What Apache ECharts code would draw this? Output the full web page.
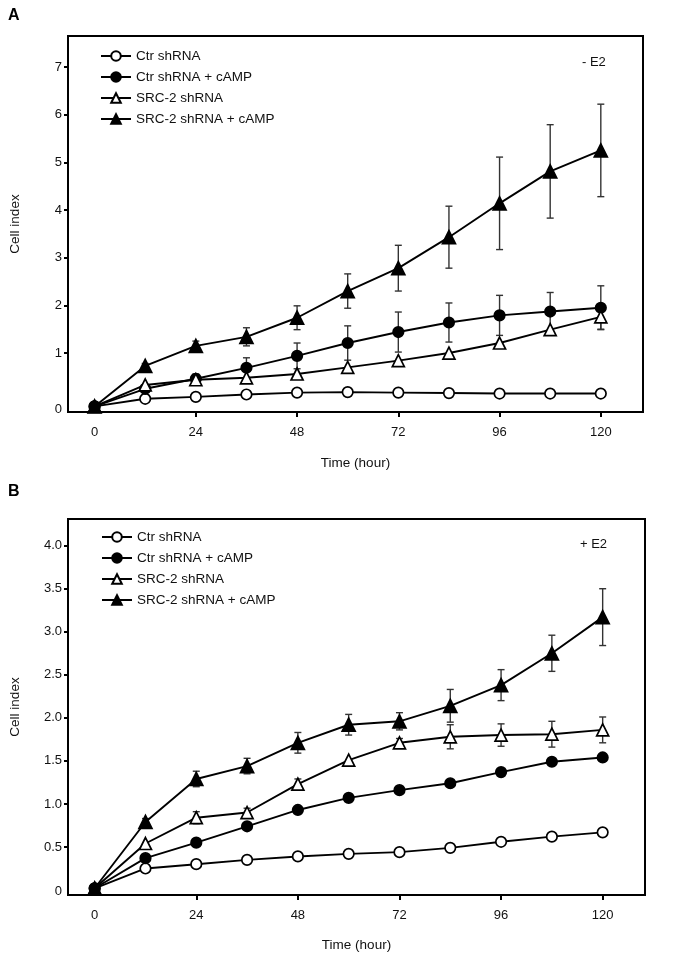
<!DOCTYPE html>
<html>
<head>
<meta charset="utf-8">
<script src="https://cdn.jsdelivr.net/npm/echarts@6/dist/echarts.min.js"></script>
<style>html,body{margin:0;padding:0;background:#fff}#c{width:673px;height:957px}</style>
</head>
<body>
<div id="c"></div>
<script>
// ---- data ----
const hours = [0, 12, 24, 36, 48, 60, 72, 84, 96, 108, 120];
const seriesNames = ['Ctr shRNA', 'Ctr shRNA + cAMP', 'SRC-2 shRNA', 'SRC-2 shRNA + cAMP'];
const xTicks = [0, 24, 48, 72, 96, 120];

// Panel A (- E2)
const ctrA       = [-0.12, 0.04, 0.08, 0.13, 0.17, 0.18, 0.17, 0.16, 0.15, 0.15, 0.15];
const ctrCampA   = [-0.12, 0.25, 0.46, 0.69, 0.94, 1.21, 1.44, 1.64, 1.79, 1.87, 1.95];
const srcA       = [-0.12, 0.33, 0.44, 0.48, 0.56, 0.70, 0.84, 1.00, 1.21, 1.49, 1.76];
const srcCampA   = [-0.12, 0.73, 1.15, 1.34, 1.74, 2.30, 2.78, 3.43, 4.14, 4.81, 5.25];
const ctrErrA     = [0, 0, 0, 0, 0, 0, 0, 0, 0, 0, 0];
const ctrCampErrA = [0, 0, 0.10, 0.21, 0.27, 0.36, 0.42, 0.41, 0.42, 0.40, 0.46];
const srcErrA     = [0, 0, 0.10, 0, 0, 0, 0, 0, 0, 0, 0.26];
const srcCampErrA = [0, 0.05, 0.10, 0.19, 0.25, 0.36, 0.48, 0.65, 0.97, 0.98, 0.97];
const yTicksA = [0, 1, 2, 3, 4, 5, 6, 7];

// Panel B (+ E2)
const ctrB       = [0.02, 0.25, 0.30, 0.35, 0.39, 0.42, 0.44, 0.49, 0.56, 0.62, 0.67];
const ctrCampB   = [0.02, 0.37, 0.55, 0.74, 0.93, 1.07, 1.16, 1.24, 1.37, 1.49, 1.54];
const srcB       = [0.02, 0.54, 0.84, 0.90, 1.23, 1.51, 1.71, 1.78, 1.80, 1.81, 1.86];
const srcCampB   = [0.02, 0.79, 1.29, 1.44, 1.71, 1.92, 1.96, 2.14, 2.38, 2.75, 3.17];
const ctrErrB     = [0, 0, 0, 0, 0, 0, 0, 0, 0, 0, 0];
const ctrCampErrB = [0, 0, 0, 0, 0, 0, 0, 0, 0, 0, 0];
const srcErrB     = [0, 0, 0.07, 0.05, 0.06, 0, 0.05, 0.14, 0.13, 0.15, 0.15];
const srcCampErrB = [0, 0.04, 0.09, 0.09, 0.12, 0.12, 0.10, 0.19, 0.18, 0.21, 0.33];
const yTicksB = [0, 0.5, 1.0, 1.5, 2.0, 2.5, 3.0, 3.5, 4.0];

// ---- build ----
const FONT = 'Liberation Sans, Arial, sans-serif';
const markers = [
  {symbol: 'circle', size: 10.5, fill: '#fff'},
  {symbol: 'circle', size: 10.5, fill: '#000'},
  {symbol: 'triangle', size: 12, fill: '#fff'},
  {symbol: 'triangle', size: 13, fill: '#000'}
];

function lineSeries(idx, vals, gi) {
  const m = markers[idx];
  return {
    type: 'line', name: seriesNames[idx], xAxisIndex: gi, yAxisIndex: gi,
    data: hours.map((h, i) => [h, vals[i]]),
    symbol: m.symbol, symbolSize: m.size, showAllSymbol: true,
    lineStyle: {color: '#000', width: 1.9},
    itemStyle: {color: m.fill, borderColor: '#000', borderWidth: 1.7, opacity: 1},
    z: 3 + idx, animation: false
  };
}
function errSeries(vals, errs, gi) {
  const d = [];
  hours.forEach((h, i) => { if (errs[i] > 0) d.push([h, vals[i] - errs[i], vals[i] + errs[i]]); });
  return {
    type: 'custom', xAxisIndex: gi, yAxisIndex: gi, data: d, z: 2, animation: false, silent: true,
    renderItem: function (params, api) {
      const lo = api.coord([api.value(0), api.value(1)]);
      const hi = api.coord([api.value(0), api.value(2)]);
      const w = 3.5;
      const st = {stroke: '#333', lineWidth: 1.4};
      return {type: 'group', children: [
        {type: 'line', shape: {x1: hi[0], y1: hi[1], x2: lo[0], y2: lo[1]}, style: st},
        {type: 'line', shape: {x1: hi[0] - w, y1: hi[1], x2: hi[0] + w, y2: hi[1]}, style: st},
        {type: 'line', shape: {x1: lo[0] - w, y1: lo[1], x2: lo[0] + w, y2: lo[1]}, style: st}
      ]};
    }
  };
}

function xAxis(gi) {
  return {
    type: 'value', gridIndex: gi, min: -6.3, max: 130,
    name: 'Time (hour)', nameLocation: 'middle', nameGap: gi === 0 ? 44 : 43,
    nameTextStyle: {fontFamily: FONT, fontSize: 13.5, color: '#111'},
    axisLine: {show: true, onZero: false, lineStyle: {color: '#000', width: 2}},
    axisTick: {show: true, length: 5, lineStyle: {color: '#000', width: 2}, customValues: xTicks.slice(1)},
    axisLabel: {customValues: xTicks, fontFamily: FONT, fontSize: 13, color: '#111', margin: 14},
    splitLine: {show: false}
  };
}
function yAxis(gi, ticks, min, max, zeroPos, fmt) {
  const labels = ticks.map(v => v === 0 ? zeroPos : v);
  return {
    type: 'value', gridIndex: gi, min: min, max: max,
    name: 'Cell index', nameLocation: 'middle', nameGap: 46, nameRotate: 90,
    nameTextStyle: {fontFamily: FONT, fontSize: 13.5, color: '#111'},
    axisLine: {show: true, onZero: false, lineStyle: {color: '#000', width: 2}},
    axisTick: {show: true, length: 4, lineStyle: {color: '#000', width: 2}, customValues: ticks.slice(1)},
    axisLabel: {customValues: labels, fontFamily: FONT, fontSize: 13, color: '#111', margin: 6,
      formatter: fmt},
    splitLine: {show: false}
  };
}

const option = {
  backgroundColor: '#fff',
  animation: false,
  title: [
    {text: 'A', left: 3, top: 3, textStyle: {fontFamily: FONT, fontSize: 16, fontWeight: 'bold', color: '#000'}},
    {text: 'B', left: 3, top: 479, textStyle: {fontFamily: FONT, fontSize: 16, fontWeight: 'bold', color: '#000'}},
    {text: '- E2', left: 577, top: 51, textStyle: {fontFamily: FONT, fontSize: 13, fontWeight: 'normal', color: '#111'}},
    {text: '+ E2', left: 575, top: 533, textStyle: {fontFamily: FONT, fontSize: 13, fontWeight: 'normal', color: '#111'}}
  ],
  legend: [
    {orient: 'vertical', left: 100, top: 49, itemWidth: 30, itemHeight: 12, itemGap: 7, padding: 0,
     data: seriesNames, selectedMode: false, textStyle: {fontFamily: FONT, fontSize: 13.5, color: '#111'}},
    {orient: 'vertical', left: 101, top: 530, itemWidth: 30, itemHeight: 12, itemGap: 7, padding: 0,
     data: seriesNames, selectedMode: false, textStyle: {fontFamily: FONT, fontSize: 13.5, color: '#111'}}
  ],
  grid: [
    {left: 67, right: 30, top: 36, height: 376, show: true, borderColor: '#000', borderWidth: 2, backgroundColor: 'transparent'},
    {left: 67, right: 28, top: 519, height: 376, show: true, borderColor: '#000', borderWidth: 2, backgroundColor: 'transparent'}
  ],
  xAxis: [xAxis(0), xAxis(1)],
  yAxis: [
    yAxis(0, yTicksA, -0.237, 7.65, -0.19, v => v < 0.5 ? '0' : String(Math.round(v))),
    yAxis(1, yTicksB, -0.058, 4.31, -0.02, v => v < 0.25 ? '0' : v.toFixed(1))
  ],
  series: [
    errSeries(ctrA, ctrErrA, 0), errSeries(ctrCampA, ctrCampErrA, 0),
    errSeries(srcA, srcErrA, 0), errSeries(srcCampA, srcCampErrA, 0),
    errSeries(ctrB, ctrErrB, 1), errSeries(ctrCampB, ctrCampErrB, 1),
    errSeries(srcB, srcErrB, 1), errSeries(srcCampB, srcCampErrB, 1),
    lineSeries(0, ctrA, 0), lineSeries(1, ctrCampA, 0), lineSeries(2, srcA, 0), lineSeries(3, srcCampA, 0),
    lineSeries(0, ctrB, 1), lineSeries(1, ctrCampB, 1), lineSeries(2, srcB, 1), lineSeries(3, srcCampB, 1)
  ]
};
const chart = echarts.init(document.getElementById('c'), null, {renderer: 'canvas'});
chart.setOption(option);
</script>
</body>
</html>
